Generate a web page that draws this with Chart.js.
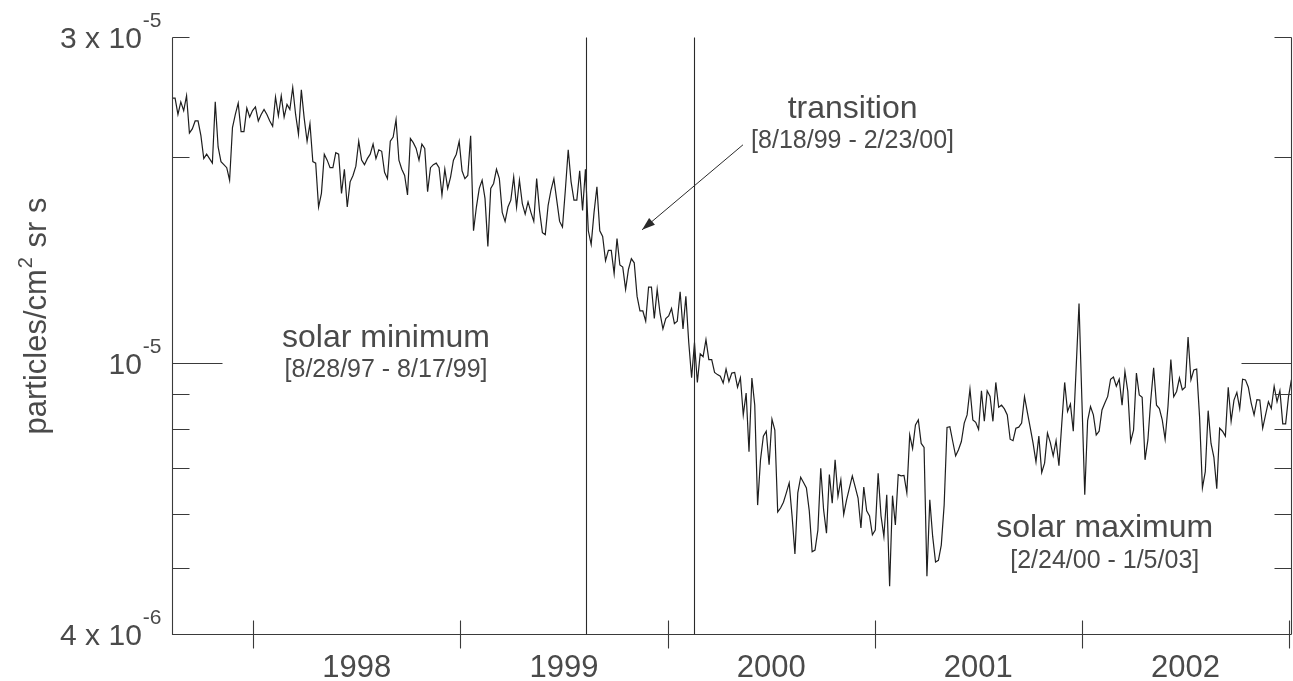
<!DOCTYPE html>
<html>
<head>
<meta charset="utf-8">
<script src="https://cdn.jsdelivr.net/npm/chart.js@4"></script>
<style>
  html, body { margin: 0; padding: 0; background: #fff; }
  #flux-chart { display: block; }
</style>
</head>
<body>
<canvas id="flux-chart" width="1293" height="681"></canvas>
<script>
// flux in units of 1e-6 particles/cm^2 sr s, samples evenly spaced in time
let fluxStart = 1997.609;
let fluxEnd = 2003.011;
let flux = [
  24.4, 24.4, 23.1, 24.1, 23.4, 24.6, 21.7, 22.0, 22.6, 22.6,
  21.5, 19.9, 20.2, 19.9, 19.6, 24.1, 20.7, 19.7, 19.5, 19.3,
  18.5, 22.1, 23.1, 24.0, 21.8, 21.8, 23.6, 22.9, 23.4, 23.7,
  22.6, 23.1, 23.5, 23.1, 22.6, 22.2, 24.5, 23.0, 24.6, 22.9,
  23.9, 23.5, 25.3, 23.1, 21.6, 25.1, 22.8, 21.1, 22.4, 19.7,
  19.6, 16.9, 17.7, 20.2, 19.8, 19.3, 19.3, 20.3, 20.2, 17.7,
  19.2, 16.9, 18.4, 18.8, 19.4, 21.1, 19.8, 19.5, 19.9, 20.2,
  // 1998.5 - 1999.4
  20.9, 19.9, 20.5, 20.4, 19.0, 18.6, 21.1, 21.4, 22.7, 19.8,
  19.2, 18.8, 17.6, 21.3, 21.0, 20.6, 19.8, 20.9, 20.6, 17.8,
  19.3, 19.5, 19.6, 19.3, 17.6, 19.2, 18.0, 18.7, 19.8, 20.2,
  21.1, 19.1, 18.6, 18.8, 21.5, 15.6, 16.9, 18.0, 18.5, 17.4,
  14.8, 18.0, 18.3, 19.2, 18.6, 16.6, 16.1, 16.9, 17.3, 18.7,
  16.9, 18.5, 17.1, 16.5, 17.2, 16.6, 16.1, 18.6, 16.7, 15.5,
  15.4, 17.0, 17.9, 18.6, 17.3, 16.1,
  // 1999.4 - 2000.3
  15.8, 17.9, 20.5, 18.4, 17.3, 17.3, 19.1, 16.7, 19.2, 15.6,
  14.9, 16.6, 18.1, 15.6, 15.3, 14.1, 14.6, 14.6, 13.5, 15.2,
  13.9, 13.8, 12.8, 13.7, 14.2, 14.0, 12.5, 11.9, 11.9, 11.5,
  12.9, 12.9, 11.6, 12.8, 11.8, 11.2, 11.6, 11.7, 12.0, 11.4,
  11.5, 12.7, 11.2, 12.5, 10.7, 9.5, 10.7, 9.35, 10.3, 10.2,
  10.8, 10.1, 10.1, 9.67, 9.6, 9.55, 9.33, 9.78, 9.38, 9.65,
  9.67, 9.2, 9.5,
  // 2000.3 - 2001.3
  8.38, 9.02, 7.40, 9.49, 8.66, 6.18, 7.20, 7.80, 7.93, 7.08,
  8.26, 7.96, 6.04, 6.12, 6.24, 6.44, 6.66, 5.96, 5.24, 6.44,
  6.79, 6.67, 6.55, 6.06, 5.28, 5.31, 5.68, 7.00, 6.08, 5.62,
  6.85, 6.22, 7.20, 6.37, 6.73, 5.99, 6.29, 6.55, 6.82, 6.57,
  6.33, 5.72, 6.57, 6.06, 5.96, 5.59, 5.68, 6.88, 5.96, 5.56,
  6.40, 4.70, 6.38, 5.78, 6.85, 6.82, 6.83, 6.44, 7.83, 7.48,
  8.10, 8.24, 7.61, 7.51, 4.86, 6.29, 5.56, 5.10,
  5.13, 5.40, 6.18,
  // 2001.3 - 2002.2
  8.03, 8.05, 7.66, 7.30, 7.45, 7.66, 8.15, 8.38, 9.14, 8.24,
  8.17, 7.98, 9.09, 8.20, 9.09, 8.92, 8.20, 9.35, 8.60, 8.66,
  8.55, 8.38, 7.72, 7.68, 8.01, 8.04, 8.15, 8.91, 8.45, 8.03,
  7.61, 7.15, 7.80, 6.90, 7.12, 7.88, 7.63, 7.30, 7.68, 7.06,
  8.15, 9.35, 8.48, 8.69, 7.93, 9.82, 12.2, 8.81, 6.40, 8.22,
  8.62, 8.38, 7.83, 7.93, 8.52, 8.72, 8.92, 9.45, 9.52, 9.23,
  9.45, 8.66, 9.70,
  // 2002.2 - 2003
  9.07, 7.66, 7.96, 9.65, 8.96, 8.89, 7.20, 7.70, 8.81, 9.82,
  8.66, 8.56, 8.24, 7.72, 8.62, 10.1, 8.91, 9.07, 9.49, 9.12,
  9.20, 10.9, 9.43, 9.75, 9.78, 8.33, 6.55, 6.92, 8.50, 7.61,
  7.26, 6.53, 8.01, 7.93, 7.80, 9.20, 8.20, 8.81, 9.04, 8.56,
  9.45, 9.43, 9.20, 8.72, 8.38, 8.82, 8.81, 8.01, 8.38, 8.76,
  8.56, 9.23, 8.76, 9.09, 8.13, 8.13, 8.91, 9.43
];

// axis ticks
let yearTicks = [1998, 1999, 2000, 2001, 2002, 2003];
let yearLabels = ['1998', '1999', '2000', '2001', '2002'];
let yMinorTicks = [5, 6, 7, 8, 9, 20, 30];
let yMajorTicks = [10];
let yLabelValues = [30, 10, 4];
let yLabelTexts = ['3 x 10', '10', '4 x 10'];
let yLabelExps = ['-5', '-5', '-6'];

// solar cycle periods
let periodBounds = [1999.606, 2000.128];
let periodNames = ['solar minimum', 'transition', 'solar maximum'];
let periodDates = ['[8/28/97 - 8/17/99]', '[8/18/99 - 2/23/00]', '[2/24/00 - 1/5/03]'];

let fluxPoints = flux.map((v, i) => ({
    x: fluxStart + i * (fluxEnd - fluxStart) / (flux.length - 1),
    y: v
}));

const FONT = "'Liberation Sans', Arial, Helvetica, sans-serif";
const TEXT_COLOR = '#4a4a4a';
const AXIS_COLOR = '#3a3a3a';

// axes with inward ticks, superscript labels and the period notes
const paperAxes = {
    id: 'paperAxes',
    afterDraw(chart) {
        const ctx = chart.ctx;
        const a = chart.chartArea;
        const xs = chart.scales.x;
        const ys = chart.scales.y;
        const L = Math.round(a.left) + 0.5, R = Math.round(a.right) - 0.5;
        const T = Math.round(a.top) + 0.5, B = Math.round(a.bottom) + 0.5;

        ctx.save();
        ctx.strokeStyle = AXIS_COLOR;
        ctx.lineWidth = 1.1;

        // left, bottom, right axis lines
        ctx.beginPath();
        ctx.moveTo(L, T); ctx.lineTo(L, B); ctx.lineTo(R, B);
        ctx.moveTo(R, T); ctx.lineTo(R, B);
        ctx.stroke();

        // year ticks cross the bottom axis
        ctx.beginPath();
        yearTicks.forEach(t => {
            const px = Math.round(xs.getPixelForValue(t)) + 0.5;
            ctx.moveTo(px, B - 14); ctx.lineTo(px, B + 14);
        });
        // y ticks on both sides, pointing inward
        yMinorTicks.forEach(v => {
            const py = Math.round(ys.getPixelForValue(v)) + 0.5;
            ctx.moveTo(L, py); ctx.lineTo(L + 17, py);
            ctx.moveTo(R, py); ctx.lineTo(R - 17, py);
        });
        yMajorTicks.forEach(v => {
            const py = Math.round(ys.getPixelForValue(v)) + 0.5;
            ctx.moveTo(L, py); ctx.lineTo(L + 50, py);
            ctx.moveTo(R, py); ctx.lineTo(R - 50, py);
        });
        ctx.stroke();

        // period boundaries
        ctx.strokeStyle = '#2a2a2a';
        ctx.beginPath();
        periodBounds.forEach(t => {
            const px = Math.round(xs.getPixelForValue(t)) + 0.5;
            ctx.moveTo(px, T); ctx.lineTo(px, B);
        });
        ctx.stroke();

        ctx.fillStyle = TEXT_COLOR;

        // year labels centred in each year
        ctx.font = '31px ' + FONT;
        ctx.textAlign = 'center';
        ctx.textBaseline = 'alphabetic';
        yearLabels.forEach(lbl => {
            const px = xs.getPixelForValue(Number(lbl) + 0.5);
            ctx.fillText(lbl, px, B + 42);
        });

        // y labels: "a x 10" plus superscript exponent, right-aligned
        yLabelValues.forEach((v, i) => {
            const py = ys.getPixelForValue(v);
            ctx.font = '21px ' + FONT;
            const ew = ctx.measureText(yLabelExps[i]).width;
            const right = L - 11;
            ctx.textAlign = 'right';
            ctx.fillText(yLabelExps[i], right, py - 10);
            ctx.font = '30px ' + FONT;
            ctx.fillText(yLabelTexts[i], right - ew - 1, py + 11);
        });

        // y-axis title, rotated
        ctx.save();
        ctx.translate(46, 316);
        ctx.rotate(-Math.PI / 2);
        ctx.textAlign = 'left';
        ctx.font = '31px ' + FONT;
        const t1 = 'particles/cm', t2 = ' sr s';
        const w1 = ctx.measureText(t1).width, w3 = ctx.measureText(t2).width;
        ctx.font = '20px ' + FONT;
        const w2 = ctx.measureText('2').width + 2;
        const x0 = -(w1 + w2 + w3) / 2;
        ctx.font = '31px ' + FONT;
        ctx.fillText(t1, x0, 0);
        ctx.fillText(t2, x0 + w1 + w2, 0);
        ctx.font = '20px ' + FONT;
        ctx.fillText('2', x0 + w1 + 1, -14);
        ctx.restore();

        // period notes: name and date range
        const notes = [
            { x: 1998.641, name: 10.54, dates: 9.52 },
            { x: 2000.893, name: 22.83, dates: 20.64 },
            { x: 2002.11, name: 5.55, dates: 5.0 }
        ];
        ctx.textAlign = 'center';
        notes.forEach((n, i) => {
            const px = xs.getPixelForValue(n.x);
            ctx.font = '32px ' + FONT;
            ctx.fillText(periodNames[i], px, ys.getPixelForValue(n.name));
            ctx.font = '25px ' + FONT;
            ctx.fillText(periodDates[i], px, ys.getPixelForValue(n.dates));
        });

        // arrow pointing at the transition
        const ax0 = xs.getPixelForValue(2000.364), ay0 = ys.getPixelForValue(20.85);
        const ax1 = xs.getPixelForValue(1999.877), ay1 = ys.getPixelForValue(15.65);
        ctx.strokeStyle = '#2a2a2a';
        ctx.lineWidth = 1;
        ctx.beginPath();
        ctx.moveTo(ax0, ay0); ctx.lineTo(ax1, ay1);
        ctx.stroke();
        const ang = Math.atan2(ay1 - ay0, ax1 - ax0);
        ctx.fillStyle = '#2a2a2a';
        ctx.beginPath();
        ctx.moveTo(ax1, ay1);
        ctx.lineTo(ax1 - 13 * Math.cos(ang) + 4.5 * Math.sin(ang), ay1 - 13 * Math.sin(ang) - 4.5 * Math.cos(ang));
        ctx.lineTo(ax1 - 13 * Math.cos(ang) - 4.5 * Math.sin(ang), ay1 - 13 * Math.sin(ang) + 4.5 * Math.cos(ang));
        ctx.closePath();
        ctx.fill();

        ctx.restore();
    }
};

let fluxCtx = document.querySelector('#flux-chart').getContext('2d');
let fluxChart = new Chart(fluxCtx, {
    type: 'line',
    data: {
        datasets: [{
            data: fluxPoints,
            borderColor: '#1e1e1e',
            borderWidth: 1.2,
            pointRadius: 0,
            tension: 0,
            fill: false
        }]
    },
    options: {
        responsive: false,
        animation: false,
        layout: { padding: { left: 172, right: 1, top: 37, bottom: 47 } },
        plugins: {
            legend: { display: false },
            tooltip: { enabled: false }
        },
        scales: {
            x: { type: 'linear', min: 1997.608, max: 2003.014, display: false },
            y: { type: 'logarithmic', min: 4, max: 30, display: false }
        }
    },
    plugins: [paperAxes]
});
</script>
</body>
</html>
